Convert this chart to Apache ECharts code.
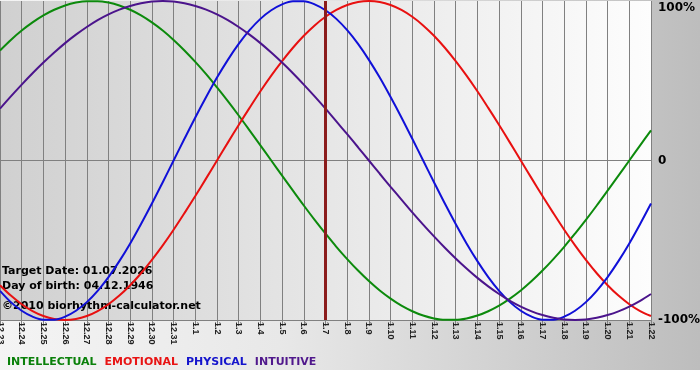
<!DOCTYPE html>
<html>
<head>
<meta charset="utf-8">
<script src="https://cdn.jsdelivr.net/npm/echarts@6/dist/echarts.min.js"></script>
<style>
html,body{margin:0;padding:0;background:#fff;}
#chart{width:700px;height:380px;}
</style>
</head>
<body>
<div id="chart"></div>
<script>
// ---- data ----
// day labels (one per day, 12.23 .. 1.22)
const days = ['12.23','12.24','12.25','12.26','12.27','12.28','12.29','12.30','12.31',
  '1.1','1.2','1.3','1.4','1.5','1.6','1.7','1.8','1.9','1.10','1.11','1.12','1.13',
  '1.14','1.15','1.16','1.17','1.18','1.19','1.20','1.21','1.22'];
const seriesNames = ['INTELLECTUAL','EMOTIONAL','PHYSICAL','INTUITIVE'];
// values (%) read every half day, starting at 12.23
const intellectual = [69.0,75.6,81.5,86.6,91.0,94.5,97.2,99.0,99.9,99.9,99.0,97.2,94.5,91.0,86.6,81.5,
  75.6,69.0,61.8,54.1,45.8,37.2,28.2,18.9,9.5,0,
  -9.5,-18.9,-28.2,-37.2,-45.8,-54.1,-61.8,-69.0,-75.6,-81.5,-86.6,-91.0,-94.5,-97.2,-99.0,-99.9,
  -99.9,-99.0,-97.2,-94.5,-91.0,-86.6,-81.5,-75.6,-69.0,-61.8,-54.1,-45.8,-37.2,-28.2,-18.9,-9.5,0,
  9.5,18.9];
const emotional = [-78.2,-84.7,-90.1,-94.4,-97.5,-99.4,-100,-99.4,-97.5,-94.4,-90.1,-84.7,-78.2,-70.7,
  -62.3,-53.2,-43.4,-33.0,-22.3,-11.2,0,11.2,22.3,33.0,43.4,53.2,62.3,70.7,78.2,84.7,90.1,94.4,97.5,
  99.4,100,99.4,97.5,94.4,90.1,84.7,78.2,70.7,62.3,53.2,43.4,33.0,22.3,11.2,0,-11.2,-22.3,-33.0,-43.4,
  -53.2,-62.3,-70.7,-78.2,-84.7,-90.1,-94.4,-97.5];
const physical = [-81.7,-88.8,-94.2,-97.9,-99.8,-99.8,-97.9,-94.2,-88.8,-81.7,-73.1,-63.1,-52.0,-39.8,
  -27.0,-13.6,0,13.6,27.0,39.8,52.0,63.1,73.1,81.7,88.8,94.2,97.9,99.8,99.8,97.9,94.2,88.8,81.7,73.1,
  63.1,52.0,39.8,27.0,13.6,0,-13.6,-27.0,-39.8,-52.0,-63.1,-73.1,-81.7,-88.8,-94.2,-97.9,-99.8,-99.8,
  -97.9,-94.2,-88.8,-81.7,-73.1,-63.1,-52.0,-39.8,-27.0];
const intuitive = [32.5,40.2,47.6,54.7,61.4,67.7,73.6,78.9,83.7,88.0,91.6,94.6,96.9,98.6,99.7,100,99.7,
  98.6,96.9,94.6,91.6,88.0,83.7,78.9,73.6,67.7,61.4,54.7,47.6,40.2,32.5,24.5,16.5,8.3,0,
  -8.3,-16.5,-24.5,-32.5,-40.2,-47.6,-54.7,-61.4,-67.7,-73.6,-78.9,-83.7,-88.0,-91.6,-94.6,-96.9,
  -98.6,-99.7,-100,-99.7,-98.6,-96.9,-94.6,-91.6,-88.0,-83.7];
const yTicks = [-100, 0, 100];
const yTickLabels = ['-100%','0','100%'];
const targetDay = '1.7';
const infoLines = ['Target Date: 01.07.2026','Day of birth: 04.12.1946','\u00a92010 biorhythm-calculator.net'];

const lineColors = ['#0c8a0c','#e81010','#1010d8','#4b148c'];
const legendColors = ['#0a800a','#e81414','#1414cc','#50188c'];
const allValues = [intellectual, emotional, physical, intuitive];

const chart = echarts.init(document.getElementById('chart'), null, {renderer:'canvas'});
const FONT = '"DejaVu Sans", Verdana, sans-serif';

const series = seriesNames.map((n,i)=>({
  name:n, type:'line', data:allValues[i].map((v,k)=>[k/2, v]),
  smooth:0.33, showSymbol:false, clip:false,
  lineStyle:{color:lineColors[i], width:2}, itemStyle:{color:lineColors[i]},
  z: 3,
  markLine: i===0 ? {
    silent:true, symbol:'none', label:{show:false}, animation:false,
    lineStyle:{color:'#8b1c1c', width:3, type:'solid'},
    data:[{xAxis:days.indexOf(targetDay)}]
  } : undefined
}));

chart.setOption({
  animation:false,
  backgroundColor:'#ffffff',
  graphic:[
    {type:'rect', z:-10, silent:true, shape:{x:0,y:0,width:700,height:370},
     style:{fill:{type:'linear',x:0,y:0,x2:1,y2:0,colorStops:[
       {offset:0,color:'#f4f4f4'},{offset:0.4,color:'#e8e8e8'},{offset:1,color:'#bdbdbd'}]}}},
    ...infoLines.map((t,i)=>({type:'text', z:1, silent:true, left:2, top:[266,281,301][i],
      style:{text:t, fill:'#000', font:'bold 11px '+FONT}}))
  ],
  grid:{left:0, right:49, top:1, bottom:60, show:true, borderWidth:0,
    containLabel:false, outerBoundsMode:'none',
    backgroundColor:{type:'linear',x:0,y:0,x2:1,y2:0,colorStops:[
      {offset:0,color:'#d0d0d0'},{offset:1,color:'#fdfdfd'}]}},
  legend:{left:2, top:357, padding:0, itemWidth:0, itemHeight:0, itemGap:3,
    selectedMode:false, icon:'rect',
    textStyle:{fontFamily:FONT, fontWeight:'bold', fontSize:11},
    data: seriesNames.map((n,i)=>({name:n, textStyle:{color:legendColors[i]}}))},
  xAxis:{type:'value', min:0, max:days.length-1, interval:1,
    axisLine:{show:true, onZero:false, lineStyle:{color:'#808080', width:1}},
    axisTick:{show:true, length:6, lineStyle:{color:'#808080'}},
    axisLabel:{rotate:-90, margin:2, fontSize:9, fontWeight:'bold', showMinLabel:true, showMaxLabel:true,
      hideOverlap:false,
      fontFamily:'"Liberation Sans", Arial, sans-serif', color:'#222',
      formatter:(v)=>days[Math.round(v)] || ''},
    splitLine:{show:true, lineStyle:{color:'#808080', width:1}}},
  yAxis:{type:'value', position:'right', min:-100, max:100, interval:100,
    axisLine:{show:false}, axisTick:{show:false},
    splitLine:{show:true, lineStyle:{color:['#808080','#808080','rgba(0,0,0,0)'], width:1}},
    axisLabel:{margin:7, color:'#000', fontSize:12, fontWeight:'bold', fontFamily:FONT,
      formatter:(v)=>{const k=yTicks.indexOf(v); const s=k>=0?yTickLabels[k]:''; return v===100?'{t|'+s+'}':s;},
      rich:{t:{padding:[14,0,0,0], fontSize:12, fontWeight:'bold', fontFamily:FONT, color:'#000'}}}},
  series: series
});
</script>
</body>
</html>
